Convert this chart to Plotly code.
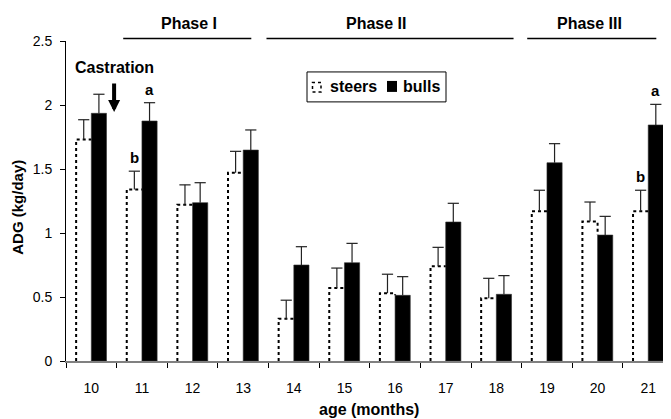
import plotly.graph_objects as go

# ---------------- data ----------------
months = [10, 11, 12, 13, 14, 15, 16, 17, 18, 19, 20, 21]
steers = [1.73, 1.34, 1.22, 1.47, 0.33, 0.57, 0.53, 0.74, 0.49, 1.17, 1.09, 1.17]
steers_se = [0.155, 0.143, 0.156, 0.168, 0.145, 0.156, 0.148, 0.148, 0.156, 0.164, 0.152, 0.164]
bulls = [1.935, 1.875, 1.237, 1.648, 0.75, 0.768, 0.513, 1.086, 0.521, 1.549, 0.984, 1.844]
bulls_se = [0.149, 0.143, 0.156, 0.157, 0.143, 0.151, 0.146, 0.146, 0.146, 0.149, 0.146, 0.161]
sig_steers = ["", "b", "", "", "", "", "", "", "", "", "", "b"]
sig_bulls = ["", "a", "", "", "", "", "", "", "", "", "", "a"]
phase_labels = ["Phase I", "Phase II", "Phase III"]

# ---------------- layout constants ----------------
# the page body has an 8px margin; the figure is sized so that the plot
# lands where the reference has it in the 671x419 window
OFF = 8
W, H = 671 - OFF, 419 - OFF
PLOT_L, PLOT_B, PLOT_T = 66, 361.5, 41          # page pixel positions
ML, MR, MT = PLOT_L - OFF, 0, PLOT_T - OFF
MB = H - (PLOT_B - OFF)
BW = 0.3
FONT = "Liberation Sans, Arial, sans-serif"
PW = W - ML - MR
PH = H - MT - MB


def px_x(px):
    return (px - PLOT_L) / PW


def px_y(py):
    return (PLOT_B - py) / PH


fig = go.Figure()

# steers bars (white fill) + dotted outline
fig.add_trace(go.Bar(x=months, y=steers, offset=-BW, width=BW,
                     marker=dict(color="white", line=dict(width=0)),
                     showlegend=False, hoverinfo="skip"))
# bulls bars
fig.add_trace(go.Bar(x=months, y=bulls, offset=0, width=BW,
                     marker=dict(color="black", line=dict(color="#333", width=0.6)),
                     showlegend=False))

ox, oy = [], []
for m, s, b in zip(months, steers, bulls):
    ox += [m - BW, m - BW, m, m, None]
    oy += [0, s, s, min(s, b), None]
fig.add_trace(go.Scatter(x=ox, y=oy, mode="lines",
                         line=dict(color="black", width=2, dash="dot"),
                         showlegend=False, hoverinfo="skip"))

# error bars (upper only)
for vals, ses, off in [(steers, steers_se, -BW / 2), (bulls, bulls_se, BW / 2)]:
    ex, ey, cx, cy = [], [], [], []
    for m, v, e in zip(months, vals, ses):
        ex += [m + off, m + off, None]
        ey += [v, v + e, None]
        cx.append(m + off)
        cy.append(v + e)
    fig.add_trace(go.Scatter(x=ex, y=ey, mode="lines",
                             line=dict(color="#222", width=1.2),
                             showlegend=False, hoverinfo="skip"))
    fig.add_trace(go.Scatter(x=cx, y=cy, mode="markers",
                             marker=dict(symbol="line-ew", size=8,
                                         line=dict(color="#222", width=1.2)),
                             showlegend=False, hoverinfo="skip"))

annotations = []
# significance letters
for sigs, vals, ses, off in [(sig_steers, steers, steers_se, -BW / 2),
                             (sig_bulls, bulls, bulls_se, BW / 2)]:
    for m, t, v, e in zip(months, sigs, vals, ses):
        if t:
            annotations.append(dict(x=m + off, y=v + e, text=t, showarrow=False,
                                    yanchor="bottom", yshift=3,
                                    font=dict(family=FONT, size=15, color="black", weight="bold")))

# phase labels and lines
phase_lines = [(10.63, 13.16), (13.46, 18.34), (18.61, 21.16)]
phase_text_x = [11.92, 15.63, 19.84]
shapes = []
for lab, (a, b), tx in zip(phase_labels, phase_lines, phase_text_x):
    shapes.append(dict(type="line", xref="x", yref="paper", x0=a, x1=b,
                       y0=px_y(38.5), y1=px_y(38.5), line=dict(color="black", width=1.5)))
    annotations.append(dict(x=tx, xref="x", y=px_y(23), yref="paper", text=lab,
                            showarrow=False, yanchor="middle",
                            font=dict(family=FONT, size=16, color="black", weight="bold")))

# castration
annotations.append(dict(x=10.46, y=px_y(68), yref="paper", text="Castration", showarrow=False,
                        yanchor="middle",
                        font=dict(family=FONT, size=16, color="black", weight="bold")))
annotations.append(dict(x=10.45, y=px_y(112), yref="paper", text="", showarrow=True,
                        ax=0, ay=-30, arrowhead=2, arrowwidth=4, arrowsize=0.6,
                        arrowcolor="black", standoff=0))

# manual legend
shapes.append(dict(type="rect", xref="paper", yref="paper",
                   x0=px_x(307), x1=px_x(446), y0=px_y(102), y1=px_y(72),
                   line=dict(color="black", width=1), fillcolor="white", layer="above"))
shapes.append(dict(type="rect", xref="paper", yref="paper",
                   x0=px_x(312.5), x1=px_x(321), y0=px_y(92), y1=px_y(82.5),
                   line=dict(color="black", width=1.5, dash="dot"), fillcolor="white", layer="above"))
shapes.append(dict(type="rect", xref="paper", yref="paper",
                   x0=px_x(387), x1=px_x(397), y0=px_y(92), y1=px_y(81),
                   line=dict(color="black", width=0), fillcolor="black", layer="above"))
annotations.append(dict(x=px_x(328), xref="paper", y=px_y(87), yref="paper", text="steers",
                        showarrow=False, xanchor="left", yanchor="middle",
                        font=dict(family=FONT, size=16, color="black", weight="bold")))
annotations.append(dict(x=px_x(401), xref="paper", y=px_y(87), yref="paper", text="bulls",
                        showarrow=False, xanchor="left", yanchor="middle",
                        font=dict(family=FONT, size=16, color="black", weight="bold")))

# axis titles
annotations.append(dict(x=px_x(18), xref="paper", y=px_y(208), yref="paper", text="ADG (kg/day)",
                        showarrow=False, textangle=-90, xanchor="center", yanchor="middle",
                        font=dict(family=FONT, size=15, color="black", weight="bold")))
annotations.append(dict(x=0.5, xref="paper", y=px_y(410), yref="paper", text="age (months)",
                        showarrow=False, xanchor="center", yanchor="middle",
                        font=dict(family=FONT, size=16, color="black", weight="bold")))

fig.update_layout(
    width=W, height=H,
    margin=dict(l=ML, r=MR, t=MT, b=MB, pad=0),
    plot_bgcolor="white", paper_bgcolor="white",
    barmode="overlay",
    showlegend=False,
    font=dict(family=FONT, size=14, color="black"),
    annotations=annotations,
    shapes=shapes,
    xaxis=dict(range=[9.5, 21.45], tickmode="array", tickvals=months,
               ticktext=[str(m) for m in months], ticks="", ticklabelstandoff=13,
               showline=True, linecolor="#808080", linewidth=1.5,
               showgrid=False, zeroline=False,
               minor=dict(tickmode="array", tickvals=[m - 0.5 for m in months],
                          ticks="outside", ticklen=5, tickcolor="black", tickwidth=1,
                          showgrid=False),
               tickfont=dict(family=FONT, size=14, color="black")),
    yaxis=dict(range=[0, 2.5], tickmode="array", tickvals=[0, 0.5, 1, 1.5, 2, 2.5],
               ticktext=["0", "0.5", "1", "1.5", "2", "2.5"],
               ticks="outside", ticklen=5, tickcolor="black", ticklabelstandoff=5,
               showline=True, linecolor="black", linewidth=1,
               showgrid=False, zeroline=False,
               tickfont=dict(family=FONT, size=14, color="black")),
)

fig.write_html("out.html")
